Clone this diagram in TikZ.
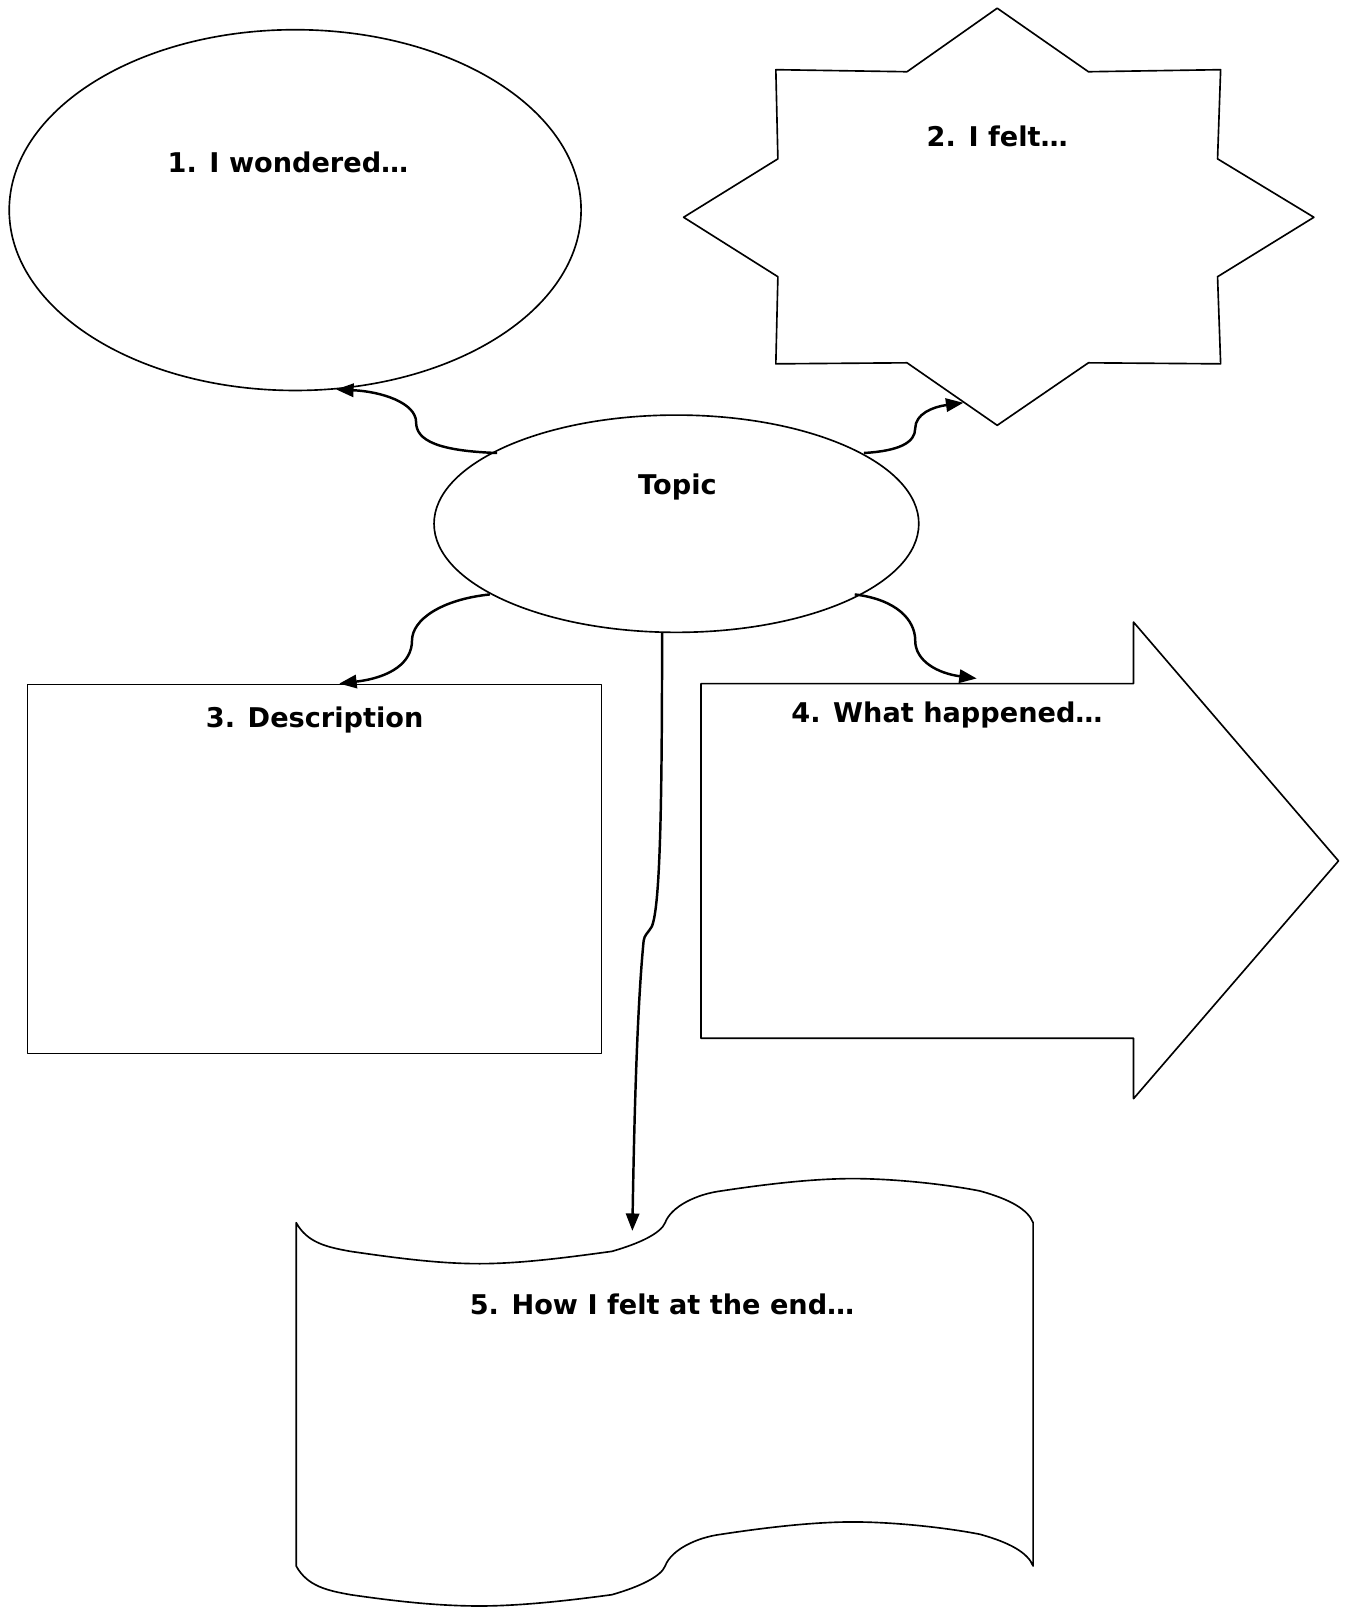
\documentclass[tikz,border=0pt]{standalone}
\usepackage{fontspec}
\setmainfont{DejaVu Sans}
\usetikzlibrary{shapes.geometric,arrows.meta}
\begin{document}
\begin{tikzpicture}[x=1pt,y=-1pt,
  shapeline/.style={draw, line width=1.6pt, line join=round},
  conn/.style={draw, line width=2.4pt, -{Triangle[length=17pt,width=13pt]}},
  lbl/.style={font=\bfseries\fontsize{26.5}{30}\selectfont, inner sep=0pt}]
\useasboundingbox (0,0) rectangle (1318,1568);

% 1. ellipse
\node[shapeline, ellipse, minimum width=558pt, minimum height=352pt, inner sep=0pt, outer sep=0pt] (wonder) at (288,205) {};
\node[lbl] (wonderlbl) at (281,158) {1. I wondered…};

% 2. star
\draw[shapeline] (973,8) -- (1062,70) -- (1191,68) -- (1188,155) -- (1282,212) -- (1188,270)
  -- (1191,355) -- (1062,354) -- (973,415) -- (885,354) -- (757,355) -- (759,270)
  -- (667,212) -- (759,155) -- (757,68) -- (885,70) -- cycle;
\node[lbl] (feltlbl) at (973,133) {2. I felt…};

% topic
\node[shapeline, ellipse, minimum width=473pt, minimum height=212pt, inner sep=0pt, outer sep=0pt] (topic) at (660,511) {};
\node[lbl] (topiclbl) at (661,475) {Topic};

% 3. rectangle
\node[shapeline, rectangle, minimum width=560pt, minimum height=360pt, inner sep=0pt, outer sep=0pt, anchor=north west] (desc) at (27,668) {};
\node[lbl] (desclbl) at (307,703) {3. Description};

% 4. block arrow
\draw[shapeline] (684,667) -- (1106,667) -- (1106,607) -- (1306,840) -- (1106,1072)
  -- (1106,1013) -- (684,1013) -- cycle;
\node[lbl] (happlbl) at (924,698) {4. What happened…};

% 5. wavy document
\draw[shapeline] (289,1193)
  .. controls (300,1213) and (320,1217) .. (342,1221)
  .. controls (390,1228) and (430,1233) .. (468,1233)
  .. controls (510,1233) and (560,1226) .. (597,1221)
  .. controls (625,1213) and (645,1203) .. (649,1193)
  .. controls (655,1177) and (680,1165) .. (704,1162)
  .. controls (750,1155) and (795,1150) .. (832,1150)
  .. controls (870,1150) and (920,1155) .. (956,1162)
  .. controls (985,1170) and (1003,1180) .. (1008,1193)
  -- (1008,1528)
  .. controls (1003,1515) and (985,1505) .. (956,1497)
  .. controls (920,1490) and (870,1485) .. (832,1485)
  .. controls (795,1485) and (750,1490) .. (704,1497)
  .. controls (680,1500) and (655,1512) .. (649,1528)
  .. controls (645,1538) and (625,1548) .. (597,1556)
  .. controls (560,1561) and (510,1567) .. (468,1567)
  .. controls (430,1567) and (390,1563) .. (342,1556)
  .. controls (320,1552) and (300,1548) .. (289,1528) -- cycle;
\node[lbl] (endlbl) at (646,1273) {5. How I felt at the end…};

% connector end points
\coordinate (s1) at (485,442);
\coordinate (t1) at (328,380);
\coordinate (s2) at (843,442);
\coordinate (t2) at (940,393);
\coordinate (s3) at (478,580);
\coordinate (t3) at (331,667);
\coordinate (s4) at (834,580);
\coordinate (t4) at (953,662);
\coordinate (s5) at (646,617);
\coordinate (t5) at (617,1201);

\draw[conn] (s1) .. controls (428,440) and (406,430) .. (406,412)
  .. controls (406,393) and (372,382) .. (t1);
\draw[conn] (s2) .. controls (877,440) and (893,432) .. (893,418)
  .. controls (893,404) and (910,397) .. (t2);
\draw[conn] (s3) .. controls (430,585) and (402,605) .. (402,625)
  .. controls (402,646) and (382,661) .. (t3);
\draw[conn] (s4) .. controls (875,585) and (893,605) .. (893,625)
  .. controls (893,645) and (915,657) .. (t4);
\draw[conn] (s5) .. controls (646,790) and (644,885) .. (636,904)
  .. controls (631,912) and (629,912) .. (628,918)
  .. controls (622,980) and (619,1080) .. (t5);
\end{tikzpicture}
\end{document}
